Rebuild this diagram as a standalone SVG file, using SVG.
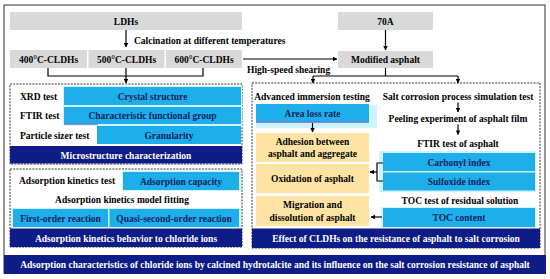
<svg xmlns="http://www.w3.org/2000/svg" width="550" height="279" viewBox="0 0 550 279">
<defs>
<style>
text{font-family:"Liberation Serif","Times New Roman",serif;font-weight:bold;font-size:9.5px;fill:#000}
.c{text-anchor:middle}
.w{fill:#fff}
.n{fill:#0b1f5e}
.grey{fill:#d9d9d9}
.blue{fill:#1eaeea}
.sh{fill:#cdf3fb}
.navy{fill:#0d1c86}
.yel{fill:#fde4a4}
.dash{fill:none;stroke:#333;stroke-width:1;stroke-dasharray:2 1.2}
.ln{fill:none;stroke:#000;stroke-width:1.2}
</style>
<marker id="ah" viewBox="0 0 10 10" refX="9" refY="5" markerWidth="4.5" markerHeight="4.5" orient="auto-start-reverse" markerUnits="userSpaceOnUse">
<path d="M0,0L10,5L0,10z" fill="#000"/>
</marker>
</defs>
<rect width="550" height="279" fill="#fff"/>
<rect x="4" y="5" width="541" height="268" fill="none" stroke="#333" stroke-width="1"/>

<g id="ldhs"><rect class="grey" x="10" y="12" width="232" height="18"/><text class="c" x="126" y="24.5">LDHs</text></g>
<g id="c400"><rect class="grey" x="10" y="50" width="77" height="18"/><text class="c" x="48.5" y="62.5">400°C-CLDHs</text></g>
<g id="c500"><rect class="grey" x="88.5" y="50" width="76" height="18"/><text class="c" x="126.5" y="62.5">500°C-CLDHs</text></g>
<g id="c600"><rect class="grey" x="166" y="50" width="76" height="18"/><text class="c" x="204" y="62.5">600°C-CLDHs</text></g>
<g id="a70"><rect class="grey" x="338" y="12" width="95" height="18"/><text class="c" x="385.5" y="24.5">70A</text></g>
<g id="modified"><rect class="grey" x="338" y="51" width="95" height="17"/><text class="c" x="385.5" y="63">Modified asphalt</text></g>

<g id="micro">
<rect class="dash" x="10" y="84" width="232" height="80"/>
<text x="20" y="99.5">XRD test</text>
<rect class="sh" x="63" y="86" width="179" height="20"/>
<rect class="blue" x="64" y="87" width="177" height="18"/>
<text class="c n" x="152.5" y="99.5">Crystal structure</text>
<text x="20" y="119">FTIR test</text>
<rect class="sh" x="63" y="106" width="179" height="20"/>
<rect class="blue" x="64" y="107" width="177" height="17"/>
<rect x="64" y="123.5" width="34" height="1.2" fill="#7a6ad0"/>
<text class="c n" x="152.5" y="119">Characteristic functional group</text>
<text x="20" y="138.5">Particle sizer test</text>
<rect class="blue" x="97" y="126" width="144" height="18"/>
<text class="c n" x="169" y="138.5">Granularity</text>
<rect class="navy" x="10" y="146" width="232" height="17.5"/>
<text class="c w" x="126" y="158.5">Microstructure characterization</text>
</g>

<g id="kinetics">
<rect class="dash" x="10" y="169" width="232" height="78"/>
<text x="19" y="183.5">Adsorption kinetics test</text>
<rect class="sh" x="122" y="171" width="119" height="20"/>
<rect class="blue" x="123" y="172" width="116" height="18"/>
<text class="c n" x="181" y="184.5">Adsorption capacity</text>
<text class="c" x="122" y="202.5">Adsorption kinetics model fitting</text>
<rect class="sh" x="11" y="208" width="230" height="20"/>
<rect class="blue" x="13" y="209" width="95" height="18"/>
<text class="c n" x="60.5" y="221.5">First-order reaction</text>
<rect class="blue" x="109.5" y="209" width="129.5" height="18"/>
<text class="c n" x="174" y="221.5">Quasi-second-order reaction</text>
<rect class="navy" x="10" y="228.5" width="232" height="18.5"/>
<text class="c w" x="126" y="241.5">Adsorption kinetics behavior to chloride ions</text>
</g>

<g id="effect">
<rect class="dash" x="252" y="83" width="288" height="165"/>
<text class="c" x="312" y="99.5">Advanced immersion testing</text>
<text class="c" x="458" y="99.5">Salt corrosion process simulation test</text>
<rect class="sh" x="256" y="105" width="121" height="23"/>
<rect class="blue" x="256" y="104" width="113" height="18"/>
<rect x="256" y="121.5" width="113" height="1.3" fill="#7a6ad0"/>
<text class="c n" x="312.5" y="116.5">Area loss rate</text>
<text class="c" x="458" y="121.5">Peeling experiment of asphalt film</text>
<text class="c" x="458" y="146.5">FTIR test of asphalt</text>
<rect class="yel" x="256" y="133" width="113" height="29"/>
<text class="c" x="312.5" y="144.5">Adhesion between</text>
<text class="c" x="312.5" y="156.5">asphalt and aggregate</text>
<rect class="yel" x="256" y="164" width="113" height="29"/>
<text class="c" x="312.5" y="182">Oxidation of asphalt</text>
<rect class="yel" x="256" y="196" width="113" height="30"/>
<text class="c" x="312.5" y="208">Migration and</text>
<text class="c" x="312.5" y="220.5">dissolution of asphalt</text>
<rect class="sh" x="379" y="151" width="157" height="41"/>
<rect class="blue" x="383" y="153" width="152" height="18"/>
<text class="c n" x="459" y="165.5">Carbonyl index</text>
<rect class="blue" x="383" y="172.5" width="152" height="18"/>
<text class="c n" x="459" y="185">Sulfoxide index</text>
<text class="c" x="460" y="203.5">TOC test of residual solution</text>
<rect class="sh" x="381" y="207" width="155" height="21"/>
<rect class="blue" x="383" y="208" width="152" height="19"/>
<text class="c n" x="459" y="221">TOC content</text>
<rect class="navy" x="252" y="228.5" width="288" height="19.5"/>
<text class="c w" x="396" y="241.5">Effect of CLDHs on the resistance of asphalt to salt corrosion</text>
</g>

<g id="bottom">
<rect class="navy" x="4" y="255" width="542" height="19"/>
<text class="c w" x="275" y="268">Adsorption characteristics of chloride ions by calcined hydrotalcite and its influence on the salt corrosion resistance of asphalt</text>
</g>

<g id="connectors">
<line class="ln" x1="126" y1="30" x2="126" y2="47" marker-end="url(#ah)"/>
<text x="134" y="43.5">Calcination at different temperatures</text>
<polyline class="ln" points="48,68 48,76 203,76 203,68"/>
<line class="ln" x1="126" y1="68" x2="126" y2="83" marker-end="url(#ah)"/>
<line class="ln" x1="243" y1="59" x2="337" y2="59" marker-end="url(#ah)"/>
<text x="247" y="72.5">High-speed shearing</text>
<line class="ln" x1="385.5" y1="30" x2="385.5" y2="50" marker-end="url(#ah)"/>
<line class="ln" x1="385.5" y1="68" x2="385.5" y2="76"/>
<line class="ln" x1="313" y1="76" x2="458" y2="76"/>
<line class="ln" x1="313" y1="76" x2="313" y2="83" marker-end="url(#ah)"/>
<line class="ln" x1="458" y1="76" x2="458" y2="83" marker-end="url(#ah)"/>
<line class="ln" x1="312.5" y1="123" x2="312.5" y2="132" marker-end="url(#ah)"/>
<line class="ln" x1="458" y1="102.5" x2="458" y2="112" marker-end="url(#ah)"/>
<line class="ln" x1="458" y1="124.5" x2="458" y2="134.5" marker-end="url(#ah)"/>
<polyline class="ln" points="383,163 377,163 377,181 383,181"/>
<line class="ln" x1="377" y1="172" x2="370" y2="172" marker-end="url(#ah)"/>
<line class="ln" x1="382" y1="217" x2="371" y2="217" marker-end="url(#ah)"/>
</g>
</svg>
